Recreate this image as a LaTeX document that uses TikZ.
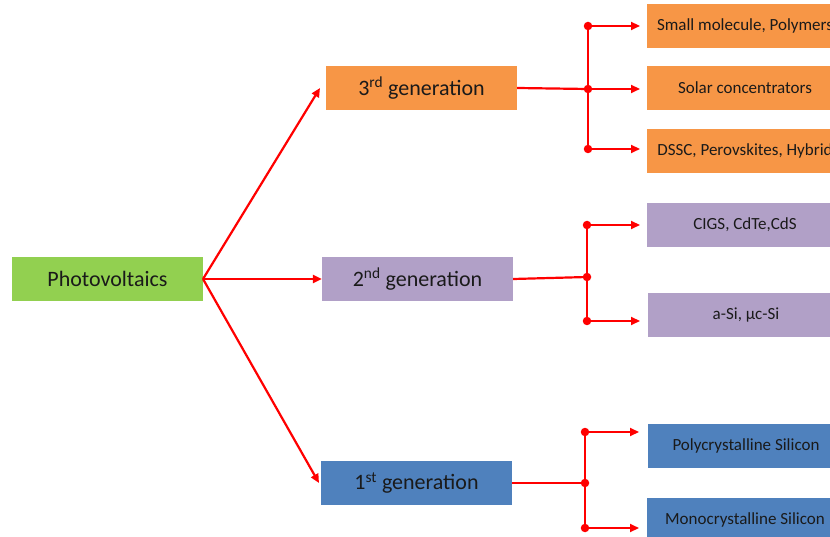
\documentclass[tikz,border=0pt]{standalone}
\usepackage{fontspec}
\setmainfont{Carlito}
\usetikzlibrary{arrows.meta}
\definecolor{pvgreen}{HTML}{92D050}
\definecolor{genorange}{HTML}{F79646}
\definecolor{genpurple}{HTML}{B1A0C7}
\definecolor{genblue}{HTML}{4F81BD}
\definecolor{txt}{HTML}{1A1A1A}
\begin{document}
\begin{tikzpicture}[x=1pt,y=-1pt,
  mainbox/.style={minimum width=191pt,minimum height=44pt,inner sep=0pt,text=txt,font=\fontsize{22}{25}\selectfont},
  leafbox/.style={minimum width=196pt,minimum height=44pt,inner sep=0pt,text=txt,font=\fontsize{17}{20}\selectfont},
  link/.style={draw=red,line width=2.2pt},
  arr/.style={link,-{Triangle[length=9pt,width=8pt]}},
  jdot/.style={circle,fill=red,inner sep=0pt,minimum size=8.5pt}
]
\useasboundingbox (0,0) rectangle (830,537);
\clip (0,0) rectangle (830,537);
\fill[white] (0,0) rectangle (830,537);

\node[mainbox,fill=pvgreen] (pv) at (107.5,279) {Photovoltaics};
\node[mainbox,fill=genorange] (g3) at (421.5,88) {3\textsuperscript{rd} generation};
\node[mainbox,fill=genpurple] (g2) at (417.5,279) {2\textsuperscript{nd} generation};
\node[mainbox,fill=genblue] (g1) at (416.5,483) {1\textsuperscript{st} generation};

\node[leafbox,fill=genorange] (l31) at (745,26) {Small molecule, Polymers};
\node[leafbox,fill=genorange] (l32) at (745,88) {Solar concentrators};
\node[leafbox,fill=genorange] (l33) at (745,151) {DSSC, Perovskites, Hybrid};
\node[leafbox,fill=genpurple] (l21) at (745,225) {CIGS, CdTe,CdS};
\node[leafbox,fill=genpurple] (l22) at (746,315) {a-Si, \textmu c-Si};
\node[leafbox,fill=genblue] (l11) at (746,446) {Polycrystalline Silicon};
\node[leafbox,fill=genblue] (l12) at (745,520) {Monocrystalline Silicon};

% arrows from Photovoltaics
\coordinate (pvr) at (203,279);
\coordinate (t3) at (320,88);
\coordinate (t1) at (319,483);
\draw[arr] (pvr) -- (t3);
\draw[arr] (pvr) -- (g2.west);
\draw[arr] (pvr) -- (t1);

% 3rd generation branch
\coordinate (j3) at (588,89);
\coordinate (j3a) at (588,26);
\coordinate (j3c) at (588,149);
\draw[link] (g3.east) -- (j3);
\draw[link] (j3a) -- (j3c);
\draw[arr] (j3a) -- (640,26);
\draw[arr] (j3) -- (640,89);
\draw[arr] (j3c) -- (640,149);
\node[jdot] at (j3) {};
\node[jdot] at (j3a) {};
\node[jdot] at (j3c) {};

% 2nd generation branch
\coordinate (j2) at (587,277);
\coordinate (j2a) at (587,225);
\coordinate (j2c) at (587,321);
\draw[link] (g2.east) -- (j2);
\draw[link] (j2a) -- (j2c);
\draw[arr] (j2a) -- (640,225);
\draw[arr] (j2c) -- (640,321);
\node[jdot] at (j2) {};
\node[jdot] at (j2a) {};
\node[jdot] at (j2c) {};

% 1st generation branch
\coordinate (j1) at (585,483);
\coordinate (j1a) at (585,432);
\coordinate (j1c) at (585,528);
\draw[link] (g1.east) -- (j1);
\draw[link] (j1a) -- (j1c);
\draw[arr] (j1a) -- (639,432);
\draw[arr] (j1c) -- (639,528);
\node[jdot] at (j1) {};
\node[jdot] at (j1a) {};
\node[jdot] at (j1c) {};
\end{tikzpicture}
\end{document}
